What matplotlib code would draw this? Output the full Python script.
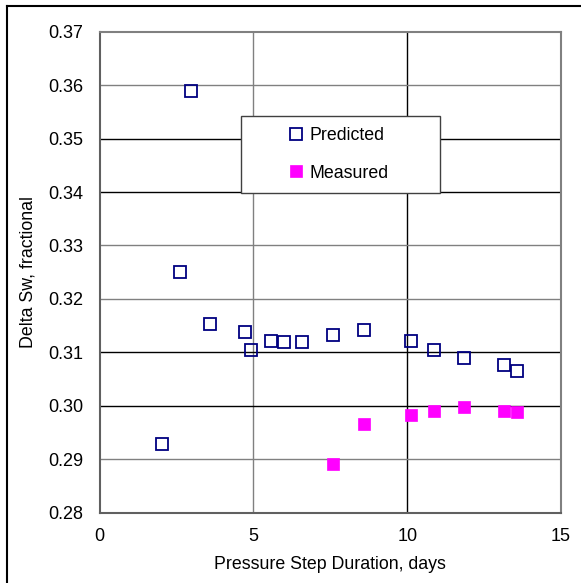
import matplotlib
matplotlib.use("Agg")
import matplotlib.pyplot as plt
from matplotlib.patches import Rectangle
from matplotlib.lines import Line2D

plt.rcParams['font.family'] = ['Liberation Sans', 'DejaVu Sans']

# Data
pred_days = [2.03, 2.62, 2.96, 3.60, 4.73, 4.93, 5.56, 6.00, 6.59, 7.57, 8.60,
             10.13, 10.86, 11.84, 13.13, 13.56]
pred_sw = [0.2929, 0.3251, 0.3590, 0.3153, 0.3138, 0.3104, 0.3122, 0.3119, 0.3119,
           0.3133, 0.3141, 0.3122, 0.3104, 0.3090, 0.3076, 0.3065]
meas_days = [7.57, 8.61, 10.13, 10.86, 11.84, 13.13, 13.56]
meas_sw = [0.2892, 0.2966, 0.2983, 0.2991, 0.2997, 0.2991, 0.2988]

x_ticks = [0, 5, 10, 15]
y_ticks = [0.28, 0.29, 0.30, 0.31, 0.32, 0.33, 0.34, 0.35, 0.36, 0.37]
y_tick_labels = ["0.28", "0.29", "0.30", "0.31", "0.32", "0.33", "0.34", "0.35", "0.36", "0.37"]

fig = plt.figure(figsize=(5.81, 5.83), dpi=100)
ax = fig.add_axes([0.1716, 0.1206, 0.794, 0.825])

ax.set_xlim(0, 15)
ax.set_ylim(0.28, 0.37)
ax.set_xticks(x_ticks)
ax.set_xticklabels([str(t) for t in x_ticks])
ax.set_yticks(y_ticks)
ax.set_yticklabels(y_tick_labels)
ax.tick_params(length=0, labelsize=13, colors='black')
ax.tick_params(axis='y', pad=12)
ax.tick_params(axis='x', pad=11)

# gridlines (colors vary as in the reference)
vgrid_col = {5: '#808080', 10: '#000000'}
for xv, c in vgrid_col.items():
    ax.axvline(xv, color=c, lw=1.0, zorder=1)
hgrid_col = {0.29: '#808080', 0.30: '#000000', 0.31: '#000000', 0.32: '#808080',
             0.33: '#808080', 0.34: '#000000', 0.35: '#000000', 0.36: '#808080'}
for yv, c in hgrid_col.items():
    ax.axhline(yv, color=c, lw=1.0, zorder=1)

for s in ax.spines.values():
    s.set_color('#808080')
    s.set_linewidth(1.5)
ax.spines['left'].set_color('#606060')
ax.spines['bottom'].set_color('#606060')

ax.plot(pred_days, pred_sw, linestyle='none', marker='s', markersize=8,
        markerfacecolor='none', markeredgecolor='#000080', markeredgewidth=1.3,
        label='Predicted', zorder=5)
ax.plot(meas_days, meas_sw, linestyle='none', marker='s', markersize=9,
        markerfacecolor='#FF00FF', markeredgecolor='#FF00FF', markeredgewidth=0.5,
        label='Measured', zorder=5)

ax.set_xlabel('Pressure Step Duration, days', fontsize=12.8, labelpad=8)
ax.set_ylabel('Delta Sw, fractional', fontsize=12.8, labelpad=8)

# legend box
rect = Rectangle((0.306, 0.664), 0.432, 0.161, transform=ax.transAxes,
                 facecolor='white', edgecolor='#404040', lw=1.0, zorder=6)
ax.add_patch(rect)
leg = ax.legend(loc='center left', bbox_to_anchor=(0.395, 0.745), frameon=False,
                fontsize=12.8, handlelength=0.6, handletextpad=0.45,
                labelspacing=1.15, borderpad=0.0)
leg.set_zorder(7)

# figure border lines (left and top)
fig.add_artist(Line2D([7/581, 7/581], [0, 1 - 6/583], color='black', lw=1.5,
                      transform=fig.transFigure))
fig.add_artist(Line2D([7/581, 1], [1 - 6/583, 1 - 6/583], color='black', lw=1.5,
                      transform=fig.transFigure))

fig.savefig('out.png', dpi=100)
